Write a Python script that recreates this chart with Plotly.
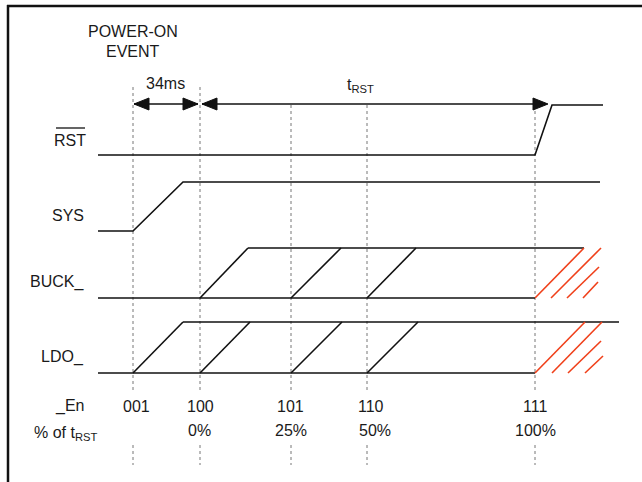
import plotly.graph_objects as go

# ---------------- data ----------------
event_x = [133, 200, 291, 367, 535]            # time positions of the enable events
en_codes = ["001", "100", "101", "110", "111"]
en_label_x = [136, 200, 290, 371, 535]
pct_labels = ["0%", "25%", "50%", "100%"]
pct_label_x = [199, 291, 375, 535]

rst_x = [98, 535, 552, 603]
rst_y = [155, 155, 105, 105]

sys_x = [98, 133, 183, 600]
sys_y = [231, 231, 182, 182]

buck_low, buck_high = 298, 248
buck_span = [98, 535]
buck_top = [248, 584]
buck_ramp_start = [200, 291, 367]
buck_ramp_end = [248, 341, 416]

ldo_low, ldo_high = 373, 322
ldo_span = [98, 535]
ldo_top = [183, 619]
ldo_ramp_start = [133, 200, 291, 367]
ldo_ramp_end = [183, 250, 342, 418]

# red "don't care" hatch after 100 % of tRST
buck_hatch_x0 = [535, 551, 567, 583]
buck_hatch_y0 = [298, 298, 298, 298]
buck_hatch_x1 = [584, 601, 599, 598]
buck_hatch_y1 = [248, 248, 267, 282]
ldo_hatch_x0 = [535, 552, 568, 585]
ldo_hatch_y0 = [373, 373, 373, 373]
ldo_hatch_x1 = [585, 602, 601, 603]
ldo_hatch_y1 = [322, 322, 341, 356]

signal_names = ["SYS", "BUCK_", "LDO_", "_En"]
signal_label_y = [215, 282, 357, 406]

FONT = "Liberation Sans Narrow, Arial Narrow, Liberation Sans, Arial, sans-serif"
BLACK = "#111111"
TXT = "#1a1a1a"
RED = "#f0401a"
GRAY = "#777777"
LW = 1.6

fig = go.Figure()


def seg(xs, ys, color=BLACK, width=LW):
    fig.add_trace(go.Scatter(x=xs, y=ys, mode="lines",
                             line=dict(color=color, width=width),
                             hoverinfo="skip", showlegend=False))


# vertical dotted guides
for i, x in enumerate(event_x):
    top = 87 if i < 2 else 105
    fig.add_shape(type="line", x0=x, x1=x, y0=top, y1=393,
                  line=dict(color=GRAY, width=1, dash="dot"), layer="below")
    fig.add_shape(type="line", x0=x, x1=x, y0=445, y1=465,
                  line=dict(color=GRAY, width=1, dash="dot"), layer="below")

# RST
seg(rst_x, rst_y)
# SYS
seg(sys_x, sys_y)
# BUCK
seg(buck_span, [buck_low, buck_low])
seg(buck_top, [buck_high, buck_high])
for a, b in zip(buck_ramp_start, buck_ramp_end):
    seg([a, b], [buck_low, buck_high])
# LDO
seg(ldo_span, [ldo_low, ldo_low])
seg(ldo_top, [ldo_high, ldo_high])
for a, b in zip(ldo_ramp_start, ldo_ramp_end):
    seg([a, b], [ldo_low, ldo_high])
# red hatch
for x0, y0, x1, y1 in zip(buck_hatch_x0, buck_hatch_y0, buck_hatch_x1, buck_hatch_y1):
    seg([x0, x1], [y0, y1], color=RED, width=1.6)
for x0, y0, x1, y1 in zip(ldo_hatch_x0, ldo_hatch_y0, ldo_hatch_x1, ldo_hatch_y1):
    seg([x0, x1], [y0, y1], color=RED, width=1.6)

# arrows
ARROW_Y = 104
HEAD_L, HEAD_H = 15, 6


def head(tip, direction):
    base = tip - direction * HEAD_L
    fig.add_trace(go.Scatter(x=[tip, base, base, tip],
                             y=[ARROW_Y, ARROW_Y - HEAD_H, ARROW_Y + HEAD_H, ARROW_Y],
                             mode="lines", fill="toself", fillcolor=BLACK,
                             line=dict(color=BLACK, width=1),
                             hoverinfo="skip", showlegend=False))


seg([event_x[0] + 1, event_x[1] - 2], [ARROW_Y, ARROW_Y])
head(event_x[0] + 1, -1)
head(event_x[1] - 2, 1)
seg([event_x[1] + 2, 546], [ARROW_Y, ARROW_Y])
head(event_x[1] + 2, -1)
head(548, 1)

# frame (top and left only)
fig.add_shape(type="line", x0=7, x1=642, y0=6, y1=6, line=dict(color=BLACK, width=2.5))
fig.add_shape(type="line", x0=8, x1=8, y0=5, y1=482, line=dict(color=BLACK, width=2.5))


def text(x, y, s, anchor="center", size=16):
    fig.add_annotation(x=x, y=y, text=s, showarrow=False, xanchor=anchor,
                       yanchor="middle", font=dict(family=FONT, size=size, color=TXT))


text(133, 31, "POWER-ON")
text(133, 51, "EVENT")
text(165, 83, "34ms")
text(360, 85, "t<sub>RST</sub>")
text(70, 140, "RST")
fig.add_shape(type="line", x0=56, x1=85, y0=128, y1=128, line=dict(color=BLACK, width=1.3))
for name, y in zip(signal_names, signal_label_y):
    text(86, y, name, anchor="right")
text(65, 433, "% of t<sub>RST</sub>")
for s, x in zip(en_codes, en_label_x):
    text(x, 406, s)
for s, x in zip(pct_labels, pct_label_x):
    text(x, 430, s)

fig.update_layout(
    width=642, height=482, margin=dict(l=0, r=0, t=0, b=0),
    paper_bgcolor="white", plot_bgcolor="white",
    xaxis=dict(range=[0, 642], visible=False, fixedrange=True),
    yaxis=dict(range=[482, 0], visible=False, fixedrange=True),
    showlegend=False,
)

fig.write_html("out.html", config={"displayModeBar": False},
               post_script="document.body.style.margin='0';")
